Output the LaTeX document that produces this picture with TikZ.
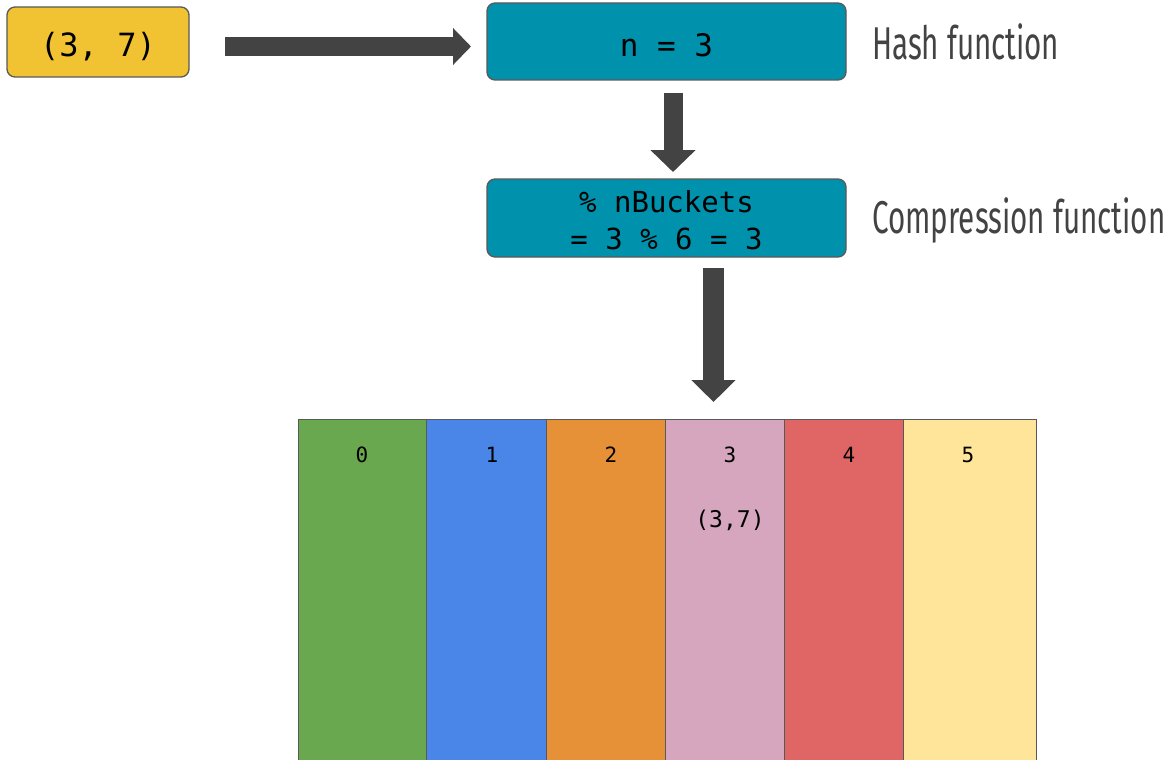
\documentclass[tikz,border=0pt]{standalone}
\usepackage{fontspec}
\setmonofont{DejaVu Sans Mono}
\newfontfamily\labelfont{Fira Sans}
\usetikzlibrary{arrows.meta}

\definecolor{keyyellow}{HTML}{F1C232}
\definecolor{functeal}{HTML}{0091AC}
\definecolor{boxedge}{HTML}{595959}
\definecolor{arrowgray}{HTML}{434343}
\definecolor{bkgreen}{HTML}{6AA84F}
\definecolor{bkblue}{HTML}{4A86E8}
\definecolor{bkorange}{HTML}{E69138}
\definecolor{bkpink}{HTML}{D5A6BD}
\definecolor{bkred}{HTML}{E06666}
\definecolor{bkyellow}{HTML}{FFE599}

\tikzset{
  roundbox/.style={draw=boxedge, line width=1.3pt, rounded corners=8pt,
    inner sep=0pt, font=\ttfamily},
  funcbox/.style={roundbox, fill=functeal, minimum width=359pt},
  funclabel/.style={anchor=west, text=arrowgray, inner sep=0pt},
  blockarrow/.style={draw=arrowgray, line width=#1},
  bucket/.style={draw=boxedge, line width=1pt, anchor=north west,
    minimum height=360pt, inner sep=0pt},
  bucketnum/.style={font=\ttfamily\fontsize{21}{21}\selectfont, inner sep=0pt},
}

\newcommand{\fnlabel}[1]{\scalebox{0.643}[1]{\labelfont\fontsize{46}{46}\selectfont #1}}

\begin{document}
\begin{tikzpicture}[x=1pt, y=-1pt]
\path[use as bounding box, clip] (0,0) rectangle (1170,760);

% key, hash step and compression step
\node[roundbox, fill=keyyellow, minimum width=182pt, minimum height=70pt,
      text height=30pt, text depth=0pt,
      font=\ttfamily\fontsize{32}{32}\selectfont] (key) at (98,42) {(3, 7)};
\node[funcbox, minimum height=77pt, text height=31pt, text depth=0pt,
      font=\ttfamily\fontsize{31}{31}\selectfont]
      (hash) at (666.5,41.5) {n = 3};
\node[funcbox, minimum height=78pt, align=center,
      font=\ttfamily\fontsize{29}{37}\selectfont]
      (comp) at (666.5,218) {\rule{0pt}{26pt}\% nBuckets\\= 3 \% 6 = 3};

\node[funclabel] (hashlbl) at (872,42) {\fnlabel{Hash function}};
\node[funclabel] (complbl) at (872,220) {\fnlabel{Compression function}};

% buckets of the table
\node[bucket, fill=bkgreen,  minimum width=128pt] (b0) at (298,419) {};
\node[bucket, fill=bkblue,   minimum width=120pt] (b1) at (426,419) {};
\node[bucket, fill=bkorange, minimum width=119pt] (b2) at (546,419) {};
\node[bucket, fill=bkpink,   minimum width=119pt] (b3) at (665,419) {};
\node[bucket, fill=bkred,    minimum width=119pt] (b4) at (784,419) {};
\node[bucket, fill=bkyellow, minimum width=133pt] (b5) at (903,419) {};

\node[bucketnum] (n0) at (362,455) {0};
\node[bucketnum] (n1) at (492,455) {1};
\node[bucketnum] (n2) at (611,455) {2};
\node[bucketnum] (n3) at (730,455) {3};
\node[bucketnum] (n4) at (849,455) {4};
\node[bucketnum] (n5) at (968,455) {5};
\node[bucketnum, font=\ttfamily\fontsize{23}{23}\selectfont] (entry) at (730,520) {(3,7)};

% block arrows between the steps
\coordinate (a1s) at (225,46.5);
\coordinate (a1e) at (471,46.5);
\coordinate (a2s) at (673,93);
\coordinate (a2e) at (673,172);
\coordinate (a3s) at (713.5,268);
\coordinate (a3e) at (713.5,402);

\draw[blockarrow=19pt, -{Triangle[width=36pt, length=18pt]}] (a1s) -- (a1e);
\draw[blockarrow=19pt, -{Triangle[width=44pt, length=22pt]}] (a2s) -- (a2e);
\draw[blockarrow=21pt, -{Triangle[width=43pt, length=22pt]}] (a3s) -- (a3e);
\end{tikzpicture}
\end{document}
